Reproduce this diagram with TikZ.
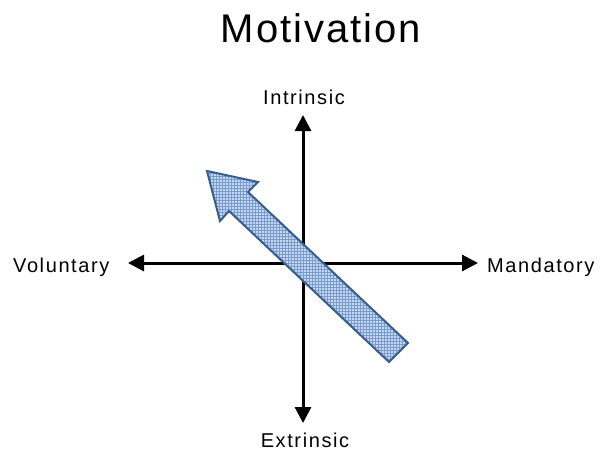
\documentclass[tikz,border=0pt]{standalone}
\usepackage{fontspec}
\setmainfont{Liberation Sans}
\usetikzlibrary{arrows.meta,patterns}
\definecolor{arrowfill}{RGB}{200,216,240}
\definecolor{arrowline}{RGB}{56,93,138}
\definecolor{hatch}{RGB}{120,155,205}
\begin{document}
\begin{tikzpicture}[x=1pt,y=-1pt,
  axis/.style={line width=3pt,-{Triangle[length=16pt,width=16pt]}},
  lbl/.style={inner sep=0pt,font=\fontsize{20}{24}\selectfont\addfontfeatures{LetterSpace=8}},
  title/.style={inner sep=0pt,font=\fontsize{40}{48}\selectfont\addfontfeatures{LetterSpace=5}},
  blockarrow/.style={draw=arrowline,line width=2pt,line join=miter,
    preaction={fill=arrowfill},pattern=grid,pattern color=hatch}]
\useasboundingbox (0,0) rectangle (600,455);
% centre and axis tips
\coordinate (c) at (303,263);
\coordinate (top) at (303,115);
\coordinate (bot) at (303,423);
\coordinate (left) at (128,263);
\coordinate (right) at (478,263);
% texts
\node[title,anchor=base] (t) at (321,42) {Motivation};
\node[lbl,anchor=base] (intr) at (304,104) {Intrinsic};
\node[lbl,anchor=base] (extr) at (305,447) {Extrinsic};
\node[lbl,anchor=base west] (vol) at (13,272) {Voluntary};
\node[lbl,anchor=base west] (man) at (487,272) {Mandatory};
% axes
\draw[axis] (c) -- (top);
\draw[axis] (c) -- (bot);
\draw[axis] (c) -- (left);
\draw[axis] (c) -- (right);
% block arrow
\draw[blockarrow] (207,171) -- (258,182) -- (248,192) -- (408,343)
  -- (389,362) -- (229,211) -- (220,221) -- cycle;
\end{tikzpicture}
\end{document}
